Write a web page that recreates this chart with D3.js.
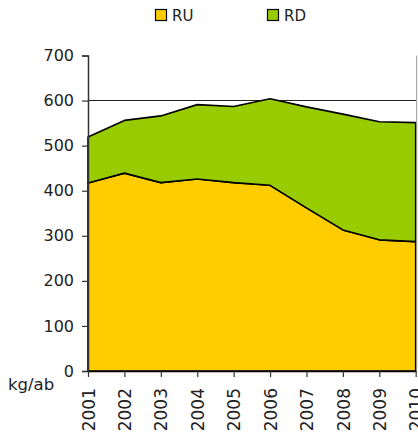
<!DOCTYPE html>
<html><head><meta charset="utf-8">
<script src="https://cdn.jsdelivr.net/npm/d3@7"></script>
<style>body{margin:0;background:#fff;} text{font-family:"DejaVu Sans",Verdana,sans-serif;}</style>
</head><body><svg id="c" width="418" height="432"></svg>
<script>
const years = ["2001","2002","2003","2004","2005","2006","2007","2008","2009","2010"];
const RU = [417, 439, 418, 426, 418, 412, 362, 313, 291, 287];
const RD = [102, 117, 148, 165, 169, 192, 224, 257, 262, 264];
const yTicks = [0,100,200,300,400,500,600,700];
const seriesNames = ["RU","RD"];
const colors = ["#FFCC00","#99CC00"];

const svg = d3.select("#c");
const L = 88, R = 415.7, T = 55.5, B = 371;
const x = d3.scalePoint().domain(years).range([L, R]);
const y = d3.scaleLinear().domain([0,700]).range([B, T]);

// gridlines
svg.append("g").selectAll("line").data(yTicks.filter(v => v>0 && v<700)).join("line")
  .attr("x1", L).attr("x2", R).attr("y1", d=>y(d)).attr("y2", d=>y(d))
  .attr("stroke","#222").attr("stroke-width",1).attr("shape-rendering","crispEdges");

const data = years.map((yr,i)=>({year:yr, RU:RU[i], RD:RD[i]}));
const stack = d3.stack().keys(seriesNames)(data);
const area = d3.area().x(d=>x(d.data.year)).y0(d=>y(d[0])).y1(d=>y(d[1]));
svg.append("g").selectAll("path").data(stack).join("path")
  .attr("d", area).attr("fill",(d,i)=>colors[i])
  .attr("stroke","#000").attr("stroke-width",1.6).attr("stroke-linejoin","round");

// right border
svg.append("line").attr("x1",R+1).attr("x2",R+1).attr("y1",T).attr("y2",B)
  .attr("stroke","#999").attr("stroke-width",1);

// y axis
const ya = svg.append("g").attr("transform",`translate(${L},0)`)
  .call(d3.axisLeft(y).tickValues(yTicks).tickSize(6).tickPadding(8));
ya.select(".domain").attr("stroke","#333").attr("stroke-width",1.5);
ya.selectAll(".tick line").attr("stroke","#333").attr("stroke-width",1.2);
ya.selectAll("text").attr("font-size","16px").attr("fill","#222").attr("font-family","DejaVu Sans");

// x axis
const xa = svg.append("g").attr("transform",`translate(0,${B})`)
  .call(d3.axisBottom(x).tickSize(6).tickSizeOuter(0));
xa.select(".domain").attr("stroke","#000").attr("stroke-width",1.5);
xa.selectAll(".tick line").attr("stroke","#333").attr("stroke-width",1.2);
xa.selectAll("text").attr("font-size","17px").attr("fill","#222").attr("font-family","DejaVu Sans")
  .attr("transform","rotate(-90)").attr("text-anchor","end").attr("x",-17).attr("y",0).attr("dy","0.36em");

svg.append("text").attr("x",8).attr("y",390).attr("font-size","16.5px").attr("fill","#222").text("kg/ab");

// legend
const legX = [155, 267];
const lg = svg.append("g").selectAll("g").data(seriesNames).join("g")
  .attr("transform",(d,i)=>`translate(${legX[i]},9)`);
lg.append("rect").attr("width",11).attr("height",11).attr("x",0.5).attr("y",0.5)
  .attr("fill",(d,i)=>colors[i]).attr("stroke","#000").attr("stroke-width",1.2);
lg.append("text").attr("x",17).attr("y",12).attr("font-size","15px").attr("fill","#222").text(d=>d);
</script></body></html>
